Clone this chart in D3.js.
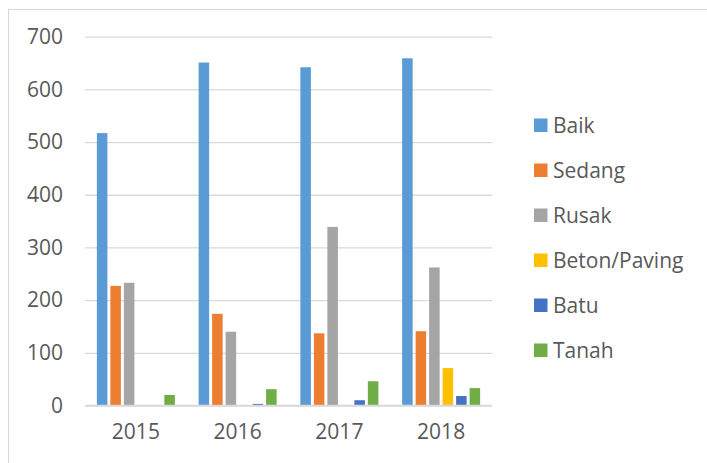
<!DOCTYPE html>
<html>
<head>
<meta charset="utf-8">
<script src="https://cdn.jsdelivr.net/npm/d3@7"></script>
<style>
	body { margin: 0; background: #fff; }
	svg { display: block; }
	.tick text, .legend text { fill: #595959; font-size: 21px; font-family: 'Open Sans', sans-serif; }
</style>
</head>
<body>
<div id="chart"></div>
<script>
const years = ['2015', '2016', '2017', '2018'];
const seriesNames = ['Baik', 'Sedang', 'Rusak', 'Beton/Paving', 'Batu', 'Tanah'];
const seriesColors = ['#5b9bd5', '#ed7d31', '#a5a5a5', '#ffc000', '#4472c4', '#70ad47'];

const baik = [517, 651, 642, 659];
const sedang = [227, 174, 137, 141];
const rusak = [233, 140, 339, 262];
const betonPaving = [0, 0, 0, 71];
const batu = [0, 3, 10, 18];
const tanah = [20, 31, 46, 33];

const yTicks = [0, 100, 200, 300, 400, 500, 600, 700];

const seriesValues = [baik, sedang, rusak, betonPaving, batu, tanah];

const width = 707;
const height = 463;
const plot = {left: 85, right: 492, top: 36.7, bottom: 405.5};

const svg = d3.select('#chart').append('svg')
	.attr('width', width)
	.attr('height', height);

svg.append('rect')
	.attr('width', width)
	.attr('height', height)
	.attr('fill', '#fff');

// chart frame (cropped on the right and bottom)
svg.append('path')
	.attr('d', `M8.5,${height} V9.5 H${width}`)
	.attr('fill', 'none')
	.attr('stroke', '#d9d9d9')
	.attr('stroke-width', 1.2);

const x0 = d3.scaleBand()
	.domain(years)
	.range([plot.left, plot.right]);

const x1 = d3.scaleBand()
	.domain(seriesNames)
	.range([0, x0.bandwidth()])
	.paddingInner(0.22)
	.paddingOuter(0.88);

const y = d3.scaleLinear()
	.domain([0, 700])
	.range([plot.bottom, plot.top]);

// gridlines + y labels
const yAxis = svg.append('g')
	.attr('transform', `translate(${plot.left},0)`)
	.call(d3.axisLeft(y)
		.tickValues(yTicks)
		.tickSize(-(plot.right - plot.left))
		.tickPadding(22));

yAxis.select('.domain').remove();
yAxis.selectAll('.tick line')
	.attr('stroke', '#d9d9d9')
	.attr('stroke-width', 1.3);

// bars
const groups = svg.append('g')
	.selectAll('g')
	.data(years)
	.join('g')
	.attr('transform', d => `translate(${x0(d)},0)`);

groups.selectAll('rect')
	.data((d, i) => seriesNames.map((name, s) => ({name, s, value: seriesValues[s][i]})))
	.join('rect')
	.filter(d => d.value > 0)
	.attr('x', d => x1(d.name))
	.attr('width', x1.bandwidth())
	.attr('y', d => y(d.value))
	.attr('height', d => y(0) - y(d.value))
	.attr('fill', d => seriesColors[d.s]);

// baseline
svg.append('line')
	.attr('x1', plot.left)
	.attr('x2', plot.right)
	.attr('y1', y(0))
	.attr('y2', y(0))
	.attr('stroke', '#d9d9d9')
	.attr('stroke-width', 1.5);

// x labels
const xAxis = svg.append('g')
	.attr('transform', `translate(0,${plot.bottom})`)
	.call(d3.axisBottom(x0).tickSize(0).tickPadding(19));

xAxis.select('.domain').remove();

// legend
const legend = svg.append('g')
	.attr('class', 'legend')
	.selectAll('g')
	.data(seriesNames)
	.join('g')
	.attr('transform', (d, i) => `translate(534,${125 + i * 45})`);

legend.append('rect')
	.attr('y', -6.5)
	.attr('width', 13.5)
	.attr('height', 13.5)
	.attr('fill', (d, i) => seriesColors[i]);

legend.append('text')
	.attr('x', 19)
	.attr('dy', '0.36em')
	.text(d => d);
</script>
</body>
</html>
